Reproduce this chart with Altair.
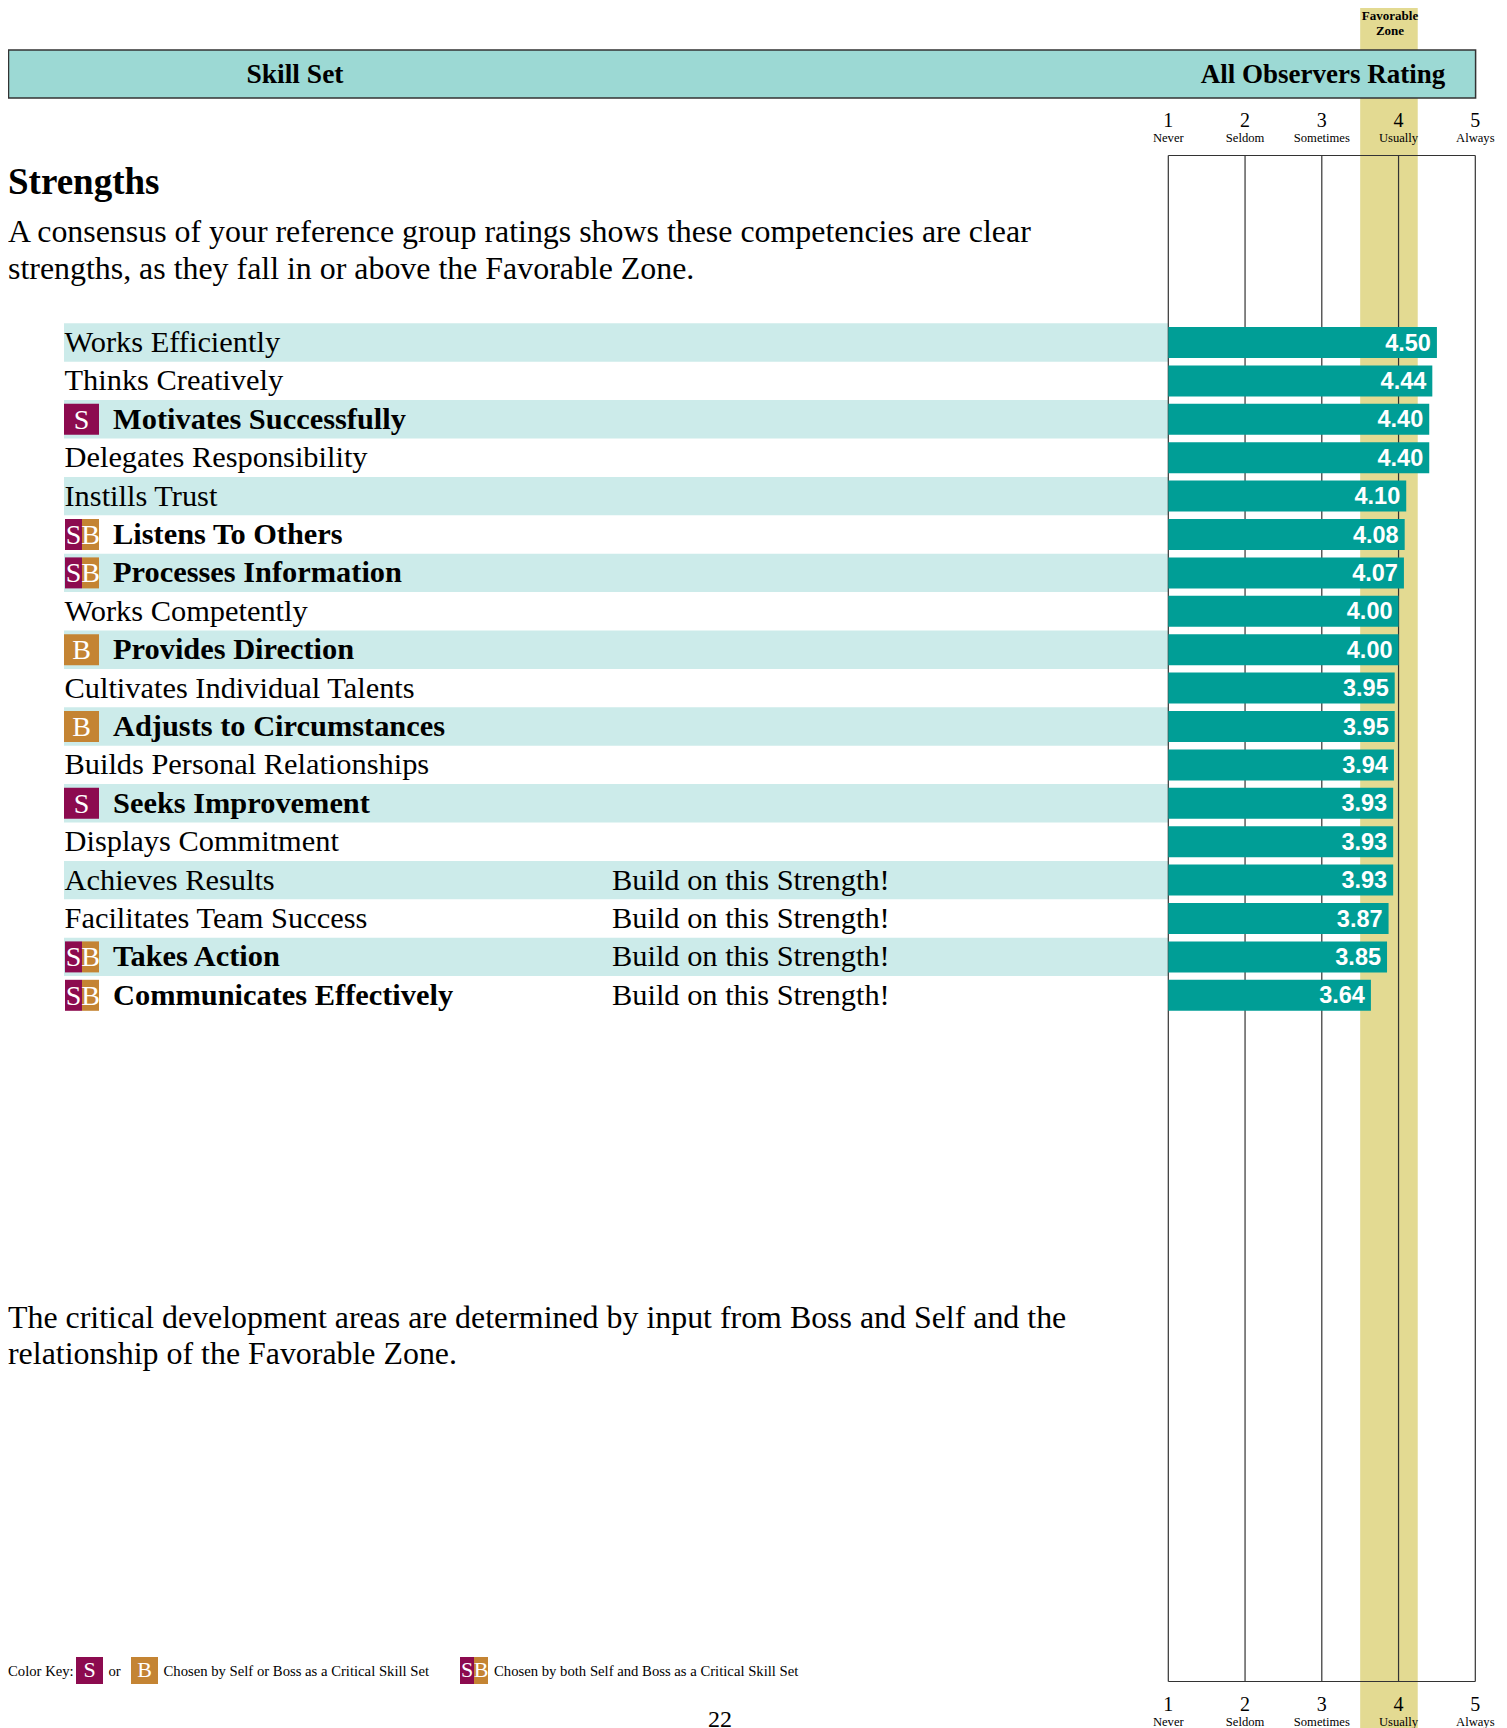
import altair as alt
import pandas as pd

# ---------- data ----------
skills = ["Works Efficiently", "Thinks Creatively", "Motivates Successfully", "Delegates Responsibility",
          "Instills Trust", "Listens To Others", "Processes Information", "Works Competently",
          "Provides Direction", "Cultivates Individual Talents", "Adjusts to Circumstances",
          "Builds Personal Relationships", "Seeks Improvement", "Displays Commitment",
          "Achieves Results", "Facilitates Team Success", "Takes Action", "Communicates Effectively"]
ratings = [4.50, 4.44, 4.40, 4.40, 4.10, 4.08, 4.07, 4.00, 4.00, 3.95, 3.95, 3.94, 3.93, 3.93, 3.93, 3.87, 3.85, 3.64]
badges = ["", "", "S", "", "", "SB", "SB", "", "B", "", "B", "", "S", "", "", "", "SB", "SB"]
notes = [""] * 14 + ["Build on this Strength!"] * 4
scale_values = [1, 2, 3, 4, 5]
scale_names = ["Never", "Seldom", "Sometimes", "Usually", "Always"]
zone_low, zone_high = 3.5, 4.25

TEAL, HEADER, BAND, ZONE = "#009E96", "#9CD9D4", "#CCEBEA", "#E3DA92"
PLUM, OCHRE, LINE = "#8C0B4F", "#C48433", "#333333"
SERIF, SANS = "Liberation Serif", "Liberation Sans"

# ---------- layout (plot pixels: page minus 8px margin) ----------
W, H = 1491, 1720
UNIT, X1 = 76.75, 1160.3
PITCH, Y0 = 38.4, 334.5
xscale = alt.Scale(domain=[1 - X1 / UNIT, 1 + (W - X1) / UNIT], nice=False, zero=False)
yscale = alt.Scale(domain=[-Y0 / PITCH, (H - Y0) / PITCH], reverse=True, nice=False, zero=False)
X = lambda f: alt.X(f, type="quantitative", scale=xscale, axis=None)
Y = lambda f: alt.Y(f, type="quantitative", scale=yscale, axis=None)

df = pd.DataFrame({"skill": skills, "rating": ratings, "badge": badges, "note": notes})
df["idx"] = range(len(df))
df["base"] = 1
df["band_top"] = df.idx - 0.5
df["band_bot"] = df.idx + 0.5
df["box_top"] = df.idx - 15.5 / PITCH
df["box_bot"] = df.idx + 15.5 / PITCH
df["label"] = df.rating.map(lambda v: f"{v:.2f}")
ticks = pd.DataFrame({"v": scale_values, "name": scale_names, "n": [str(v) for v in scale_values]})
one = pd.DataFrame({"a": [0]})


def note(text, x, y, size, weight="normal", align="left", color="black", font=SERIF):
    return alt.Chart(one).mark_text(font=font, fontSize=size, fontWeight=weight, align=align,
                                    baseline="alphabetic", color=color).encode(
        x=alt.value(x), y=alt.value(y), text=alt.value(text))


def box(x, x2, y, y2, color, **kw):
    return alt.Chart(one).mark_rect(color=color, **kw).encode(
        x=alt.value(x), x2=alt.value(x2), y=alt.value(y), y2=alt.value(y2))


layers = []
# favourable zone
zone = pd.DataFrame({"lo": [zone_low], "hi": [zone_high]})
layers.append(alt.Chart(zone).mark_rect(color=ZONE).encode(
    x=X("lo"), x2="hi", y=alt.value(0), y2=alt.value(H)))
# row bands
layers.append(alt.Chart(df[df.idx % 2 == 0]).mark_rect(color=BAND).encode(
    x=alt.value(56), x2=alt.value(X1), y=Y("band_top"), y2="band_bot"))
# frame and grid
FT, FB = 147.5, 1673.5
layers.append(alt.Chart(ticks).mark_rule(color=LINE, strokeWidth=1.2).encode(
    x=X("v"), y=alt.value(FT), y2=alt.value(FB)))
layers.append(alt.Chart(pd.DataFrame({"a": [1], "b": [5]})).mark_rule(color=LINE, strokeWidth=1.2).encode(
    x=X("a"), x2="b", y=alt.value(FT)))
layers.append(alt.Chart(pd.DataFrame({"a": [1], "b": [5]})).mark_rule(color=LINE, strokeWidth=1.2).encode(
    x=X("a"), x2="b", y=alt.value(FB)))
# bars
layers.append(alt.Chart(df).mark_rect(color=TEAL).encode(
    x=X("base"), x2="rating", y=Y("box_top"), y2="box_bot"))
layers.append(alt.Chart(df).mark_text(font=SANS, fontWeight="bold", fontSize=23.5, color="white",
                                      align="right", baseline="alphabetic", dx=-6, dy=8).encode(
    x=X("rating"), y=Y("idx"), text="label:N"))
# skill names
layers.append(alt.Chart(df[df.badge == ""]).mark_text(font=SERIF, fontSize=30.4, align="left",
                                                      baseline="alphabetic", dy=9.5, color="black").encode(
    x=alt.value(56.5), y=Y("idx"), text="skill:N"))
layers.append(alt.Chart(df[df.badge != ""]).mark_text(font=SERIF, fontWeight="bold", fontSize=30.4, align="left",
                                                      baseline="alphabetic", dy=9.5, color="black").encode(
    x=alt.value(105), y=Y("idx"), text="skill:N"))
layers.append(alt.Chart(df[df.note != ""]).mark_text(font=SERIF, fontSize=30.4, align="left",
                                                     baseline="alphabetic", dy=9.5, color="black").encode(
    x=alt.value(604), y=Y("idx"), text="note:N"))
# row badges
for code, x, x2, color, letter_x in [("S", 56, 91, PLUM, 73.5), ("B", 56, 91, OCHRE, 73.5)]:
    d = df[df.badge == code]
    layers.append(alt.Chart(d).mark_rect(color=color).encode(
        x=alt.value(x), x2=alt.value(x2), y=Y("box_top"), y2="box_bot"))
    layers.append(alt.Chart(d).mark_text(font=SERIF, fontSize=28, color="white", dy=9.5,
                                         baseline="alphabetic", align="center").encode(
        x=alt.value(letter_x), y=Y("idx"), text="badge:N"))
d = df[df.badge == "SB"]
for x, x2, color, letter in [(57, 74, PLUM, "S"), (74, 91, OCHRE, "B")]:
    layers.append(alt.Chart(d).mark_rect(color=color).encode(
        x=alt.value(x), x2=alt.value(x2), y=Y("box_top"), y2="box_bot"))
    layers.append(alt.Chart(d).mark_text(font=SERIF, fontSize=28, color="white", dy=9.5,
                                         baseline="alphabetic", align="center", text=letter).encode(
        x=alt.value((x + x2) / 2), y=Y("idx")))
# header
layers.append(box(0.5, 1467.6, 42, 90, HEADER, stroke=LINE, strokeWidth=1.5))
layers.append(note("Skill Set", 287, 75, 27.5, "bold", "center"))
layers.append(note("All Observers Rating", 1315, 75, 27, "bold", "center"))
layers.append(note("Favorable", 1382, 12, 13, "bold", "center"))
layers.append(note("Zone", 1382, 26.5, 13, "bold", "center"))
# scale labels
for ny, ty in [(119, 133.5), (1703, 1717.5)]:
    layers.append(alt.Chart(ticks).mark_text(font=SERIF, fontSize=20, baseline="alphabetic", color="black", y=ny).encode(
        x=X("v"), text="n:N"))
    layers.append(alt.Chart(ticks).mark_text(font=SERIF, fontSize=12.6, baseline="alphabetic", color="black", y=ty).encode(
        x=X("v"), text="name:N"))
# text blocks
layers.append(note("Strengths", 0, 186, 37, "bold"))
layers.append(note("A consensus of your reference group ratings shows these competencies are clear", 0, 234, 31.9))
layers.append(note("strengths, as they fall in or above the Favorable Zone.", 0, 271, 31.9))
layers.append(note("The critical development areas are determined by input from Boss and Self and the", 0, 1320, 31.9))
layers.append(note("relationship of the Favorable Zone.", 0, 1356, 31.9))
# colour key
KY = 1668
layers.append(note("Color Key:", 0, KY, 14.7))
layers.append(box(68, 95, 1649, 1676, PLUM))
layers.append(note("S", 81.5, KY + 1, 22, color="white", align="center"))
layers.append(note("or", 100.5, KY, 14.7))
layers.append(box(123, 150, 1649, 1676, OCHRE))
layers.append(note("B", 136.5, KY + 1, 22, color="white", align="center"))
layers.append(note("Chosen by Self or Boss as a Critical Skill Set", 155.5, KY, 14.7))
layers.append(box(452, 466, 1649, 1676, PLUM))
layers.append(box(466, 480, 1649, 1676, OCHRE))
layers.append(note("S", 459, KY + 1, 22, color="white", align="center"))
layers.append(note("B", 473, KY + 1, 22, color="white", align="center"))
layers.append(note("Chosen by both Self and Boss as a Critical Skill Set", 486, KY, 14.7))
layers.append(note("22", 712, 1719, 24, align="center"))

chart = alt.layer(*layers).properties(
    width=W, height=H, padding=0, autosize=alt.AutoSizeParams(type="none")
).configure_view(stroke=None)

chart.save("out.html", embed_options={"renderer": "svg", "actions": False})
